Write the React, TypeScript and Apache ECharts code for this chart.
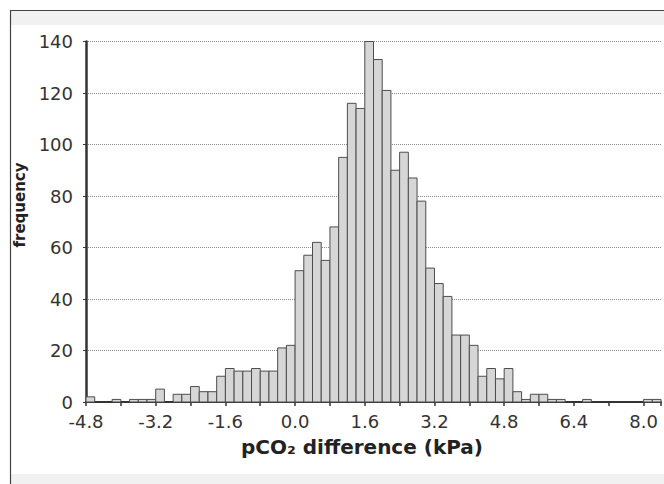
import React, { useEffect, useRef } from "react";
import * as echarts from "echarts";

// Histogram of pCO2 difference, bins of 0.2 kPa starting at -4.8 kPa
const binStart = -4.8;
const binWidth = 0.2;
const frequencies = [
  2, 0, 0, 1, 0, 1, 1, 1, 5, 0, 3, 3, 6, 4, 4, 10,
  13, 12, 12, 13, 12, 12, 21, 22, 51, 57, 62, 55, 68, 95, 116, 114,
  140, 133, 121, 90, 97, 87, 78, 52, 46, 41, 26, 26, 22, 10, 13, 9,
  13, 4, 1, 3, 3, 1, 1, 0, 0, 1, 0, 0, 0, 0, 0, 0,
  1, 1,
];
const xTickLabels = ["-4.8", "-3.2", "-1.6", "0.0", "1.6", "3.2", "4.8", "6.4", "8.0"];
const yTickValues = [0, 20, 40, 60, 80, 100, 120, 140];
const xAxisTitle = "pCO₂ difference (kPa)";
const yAxisTitle = "frequency";

export default function App() {
  const ref = useRef<HTMLDivElement>(null);
  useEffect(() => {
    if (!ref.current) return;
    const chart = echarts.init(ref.current, null, { renderer: "svg" });
    const data = frequencies.map((f, i) => [
      +(binStart + i * binWidth).toFixed(2),
      +(binStart + (i + 1) * binWidth).toFixed(2),
      f,
    ]);
    const font = "DejaVu Sans";
    chart.setOption({
      animation: false,
      backgroundColor: "#ffffff",
      grid: { left: 86, right: 1, top: 41.5, bottom: 82, containLabel: false },
      xAxis: {
        type: "value",
        min: -4.8,
        max: 8.4,
        interval: 0.8,
        axisLine: { show: true, onZero: false, lineStyle: { color: "#333", width: 2 } },
        axisTick: { show: true, length: 4, lineStyle: { color: "#333", width: 1.5 } },
        axisLabel: {
          margin: 10,
          fontFamily: font,
          fontSize: 18,
          color: "#333",
          formatter: (v: number) => {
            const hit = xTickLabels.find((t) => Math.abs(parseFloat(t) - v) < 1e-6);
            return hit ?? "";
          },
        },
        splitLine: { show: false },
      },
      yAxis: {
        type: "value",
        min: yTickValues[0],
        max: yTickValues[yTickValues.length - 1],
        interval: yTickValues[1] - yTickValues[0],
        axisLine: { show: true, onZero: false, lineStyle: { color: "#333", width: 2.5 } },
        axisTick: { show: true, length: 3, lineStyle: { color: "#333" } },
        axisLabel: { margin: 13, fontFamily: font, fontSize: 18, color: "#333" },
        splitLine: { show: true, lineStyle: { color: "#8a8a8a", type: "dotted", width: 1 } },
      },
      graphic: [
        { type: "rect", shape: { x: 11, y: 11, width: 653, height: 14 }, style: { fill: "#f1f1f1" }, z: -10 },
        { type: "rect", shape: { x: 11, y: 474, width: 653, height: 10 }, style: { fill: "#f1f1f1" }, z: -10 },
        { type: "line", shape: { x1: 10.5, y1: 10, x2: 10.5, y2: 484 }, style: { stroke: "#444", lineWidth: 1.2 } },
        { type: "line", shape: { x1: 10, y1: 10.5, x2: 664, y2: 10.5 }, style: { stroke: "#444", lineWidth: 1.2 } },
        {
          type: "text",
          x: 362,
          y: 447,
          style: {
            text: xAxisTitle,
            fontFamily: font,
            fontWeight: "bold",
            fontSize: 20,
            fill: "#222",
            textAlign: "center",
            textVerticalAlign: "middle",
          },
        },
        {
          type: "text",
          x: 20,
          y: 205,
          rotation: Math.PI / 2,
          style: {
            text: yAxisTitle,
            fontFamily: font,
            fontWeight: "bold",
            fontSize: 15,
            fill: "#222",
            textAlign: "center",
            textVerticalAlign: "middle",
          },
        },
      ],
      series: [
        {
          type: "custom",
          encode: { x: [0, 1], y: 2 },
          data,
          renderItem: (params: any, api: any) => {
            const v = api.value(2);
            if (!v) return null;
            const p0 = api.coord([api.value(0), v]);
            const p1 = api.coord([api.value(1), 0]);
            return {
              type: "rect",
              shape: { x: p0[0], y: p0[1], width: p1[0] - p0[0], height: p1[1] - p0[1] },
              style: { fill: "#d6d6d6", stroke: "#4d4d4d", lineWidth: 1 },
            };
          },
        },
      ],
    });
    return () => chart.dispose();
  }, []);
  return (
    <div
      ref={ref}
      style={{ position: "fixed", left: 0, top: 0, width: 664, height: 484 }}
    />
  );
}
